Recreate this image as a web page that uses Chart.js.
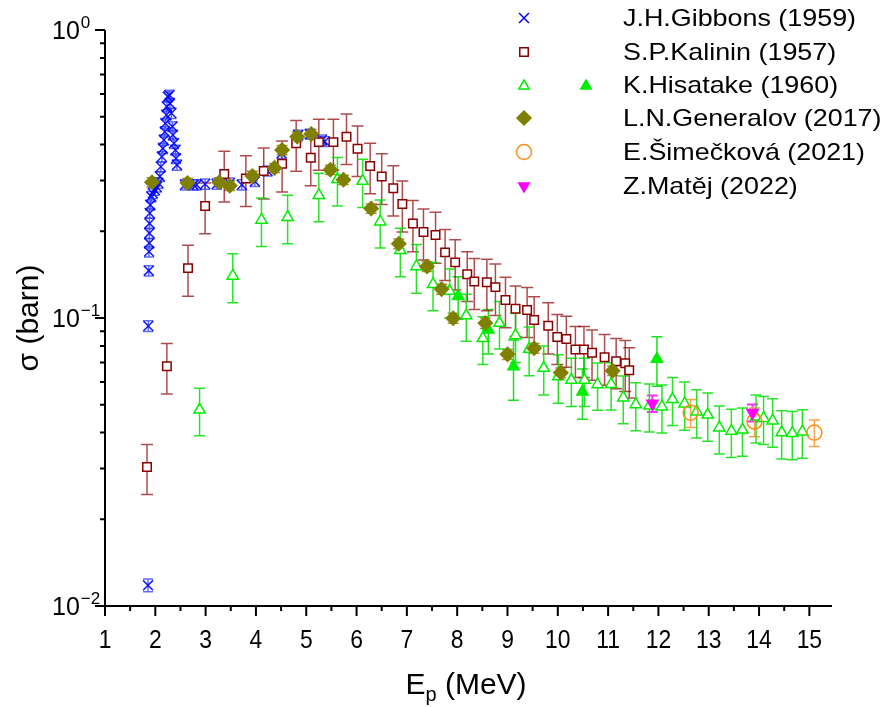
<!DOCTYPE html>
<html><head><meta charset="utf-8">
<script src="https://cdn.jsdelivr.net/npm/chart.js@4.4.0/dist/chart.umd.min.js"></script>
<style>html,body{margin:0;padding:0;background:#fff;}#wrap{width:891px;height:707px;}</style>
</head><body><div id="wrap"><canvas id="c" width="891" height="707"></canvas></div>
<script>
// ---------- data (E in MeV, sigma in barn, absolute errors) ----------
const gibbonsE = [1.855,1.86,1.87,1.875,1.88,1.882,1.885,1.89,1.90,1.92,1.95,1.99,2.03,2.06,2.09,2.11,2.13,2.15,2.17,2.19,2.20,2.22,2.23,2.25,2.28,2.29,2.32,2.34,2.35,2.37,2.40,2.41,2.43,2.59,2.76,2.82,2.99,3.22,3.48,3.72,3.98,4.23,4.51,4.84,5.07,5.31,5.37];
const gibbonsS = [0.0118,0.0938,0.146,0.170,0.182,0.197,0.213,0.231,0.247,0.264,0.271,0.278,0.285,0.294,0.310,0.335,0.363,0.388,0.415,0.443,0.474,0.507,0.542,0.586,0.594,0.556,0.514,0.462,0.432,0.404,0.383,0.358,0.340,0.290,0.290,0.290,0.292,0.292,0.294,0.290,0.298,0.324,0.373,0.432,0.435,0.415,0.410];
const gibbonsErr = [0.0006,0.004,0.006,0.007,0.007,0.008,0.009,0.009,0.010,0.011,0.011,0.011,0.011,0.012,0.012,0.013,0.015,0.016,0.017,0.018,0.019,0.020,0.022,0.023,0.024,0.022,0.021,0.018,0.017,0.016,0.015,0.014,0.014,0.012,0.012,0.012,0.012,0.012,0.012,0.012,0.012,0.013,0.015,0.017,0.017,0.017,0.016];

const kalininE = [1.835,2.23,2.65,2.99,3.37,3.80,4.155,4.52,4.80,5.09,5.25,5.54,5.80,6.02,6.27,6.50,6.73,6.91,7.12,7.33,7.57,7.76,7.96,8.20,8.34,8.59,8.76,8.96,9.16,9.39,9.53,9.81,9.99,10.17,10.35,10.52,10.68,10.93,11.16,11.34,11.42];
const kalininS = [0.0304,0.068,0.149,0.245,0.316,0.305,0.324,0.343,0.404,0.360,0.408,0.408,0.426,0.387,0.337,0.310,0.282,0.249,0.213,0.199,0.194,0.169,0.156,0.142,0.134,0.133,0.128,0.1155,0.1077,0.1066,0.0985,0.094,0.0859,0.0845,0.0778,0.0778,0.0758,0.073,0.0708,0.0696,0.0658];
const kalininErr = [0.006,0.0135,0.030,0.049,0.063,0.061,0.065,0.069,0.081,0.072,0.082,0.082,0.085,0.077,0.067,0.062,0.056,0.050,0.043,0.040,0.039,0.034,0.031,0.028,0.027,0.027,0.026,0.023,0.0215,0.021,0.020,0.019,0.017,0.017,0.0156,0.0156,0.015,0.0146,0.014,0.014,0.013];

const hisatakeE = [2.88,3.54,4.11,4.63,5.25,5.62,6.12,6.47,6.87,7.19,7.52,7.85,8.18,8.51,8.84,9.16,9.43,9.72,10.01,10.27,10.53,10.79,11.06,11.30,11.55,11.82,12.07,12.28,12.52,12.76,12.98,13.21,13.45,13.67,13.94,14.09,14.27,14.45,14.66,14.86];
const hisatakeS = [0.048,0.140,0.219,0.224,0.267,0.303,0.299,0.216,0.172,0.151,0.131,0.124,0.102,0.085,0.096,0.087,0.078,0.067,0.0626,0.0609,0.0609,0.0588,0.0589,0.0529,0.0501,0.0496,0.0492,0.0522,0.0504,0.0473,0.0461,0.0416,0.0405,0.0409,0.0454,0.0449,0.044,0.040,0.0398,0.0403];
const hisatakeErr = [0.009,0.027,0.042,0.043,0.051,0.058,0.057,0.041,0.033,0.029,0.025,0.024,0.019,0.016,0.018,0.017,0.015,0.013,0.012,0.0116,0.0116,0.011,0.011,0.010,0.0095,0.0094,0.0093,0.0099,0.0096,0.009,0.0088,0.0079,0.0077,0.0078,0.0086,0.0085,0.0084,0.0076,0.0076,0.0077];

const hisatake2E = [8.02,8.62,9.12,10.49,11.97];
const hisatake2S = [0.119,0.091,0.0678,0.0555,0.072];
const hisatake2Err = [0.020,0.016,0.016,0.011,0.014];

const generalovE = [1.934,2.64,3.27,3.48,3.93,4.37,4.52,4.82,5.10,5.48,5.74,6.29,6.84,7.40,7.69,7.92,8.56,9.00,9.53,10.06,11.09];
const generalovS = [0.296,0.294,0.296,0.288,0.311,0.332,0.383,0.426,0.435,0.327,0.302,0.240,0.181,0.151,0.126,0.0998,0.096,0.0748,0.0785,0.0646,0.0656];
const generalovErr = [0.011,0.011,0.011,0.011,0.012,0.012,0.014,0.016,0.016,0.012,0.011,0.009,0.007,0.006,0.005,0.004,0.004,0.003,0.003,0.0025,0.0025];

const simeckovaE = [12.64,13.91,15.10];
const simeckovaS = [0.0469,0.0437,0.040];
const simeckovaErr = [0.0052,0.0050,0.0042];

const matejE = [11.88,13.87];
const matejS = [0.0505,0.0469];
const matejErr = [0.0033,0.0032];

const seriesNames = ['J.H.Gibbons (1959)','S.P.Kalinin (1957)','K.Hisatake (1960)','L.N.Generalov (2017)','E.Šimečková (2021)','Z.Matěj (2022)'];
const xTickValues = [1,2,3,4,5,6,7,8,9,10,11,12,13,14,15];
const yTickValues = [1,0.1,0.01];
const yTickExps = ['0','-1','-2'];

// ---------- helpers ----------
const FONT = '"Liberation Sans", Arial, Helvetica, sans-serif';
function pts(E, S){ return E.map((e,i)=>({x:e, y:S[i]})); }

const errorBars = {
  id:'errorBars',
  beforeDatasetsDraw(chart){
    const ctx = chart.ctx, xs = chart.scales.x, ys = chart.scales.y;
    chart.data.datasets.forEach(ds=>{
      if(!ds.errors) return;
      ctx.save();
      ctx.strokeStyle = ds.errColor; ctx.lineWidth = ds.errWidth;
      ds.data.forEach((p,j)=>{
        const e = ds.errors[j];
        const px = xs.getPixelForValue(p.x);
        const yt = ys.getPixelForValue(p.y + e);
        const yb = ys.getPixelForValue(Math.max(p.y - e, 1e-4));
        const cw = ds.capW/2;
        ctx.beginPath();
        ctx.moveTo(px,yt); ctx.lineTo(px,yb);
        ctx.moveTo(px-cw,yt); ctx.lineTo(px+cw,yt);
        ctx.moveTo(px-cw,yb); ctx.lineTo(px+cw,yb);
        ctx.stroke();
      });
      ctx.restore();
    });
  }
};

function marker(ctx, style, x, y, r, stroke, fill, rot){
  ctx.save();
  ctx.strokeStyle = stroke; ctx.fillStyle = fill; ctx.lineWidth = 1.5;
  Chart.helpers.drawPoint(ctx, {pointStyle:style, radius:r, rotation:rot||0, borderWidth:1.5}, x, y);
  ctx.restore();
}

const decor = {
  id:'decor',
  afterDraw(chart){
    const ctx = chart.ctx, xs = chart.scales.x, ys = chart.scales.y, a = chart.chartArea;
    ctx.save();
    ctx.strokeStyle = '#000'; ctx.lineWidth = 2;
    ctx.beginPath();
    ctx.moveTo(a.left, a.top); ctx.lineTo(a.left, a.bottom); ctx.lineTo(a.right, a.bottom);
    ctx.stroke();
    // x ticks
    ctx.lineWidth = 2;
    ctx.beginPath();
    xTickValues.forEach(v=>{ const px = xs.getPixelForValue(v); ctx.moveTo(px,a.bottom); ctx.lineTo(px,a.bottom+10); });
    for(let v=1.5; v<xs.max; v+=1){ const px = xs.getPixelForValue(v); ctx.moveTo(px,a.bottom); ctx.lineTo(px,a.bottom+5); }
    // y ticks
    yTickValues.forEach(v=>{ const py = ys.getPixelForValue(v); ctx.moveTo(a.left,py); ctx.lineTo(a.left-10,py); });
    [0.01,0.1].forEach(d=>{ for(let k=2;k<=9;k++){ const py = ys.getPixelForValue(d*k); ctx.moveTo(a.left,py); ctx.lineTo(a.left-5,py); } });
    ctx.stroke();
    // x tick labels
    ctx.fillStyle = '#000';
    ctx.font = '26px ' + FONT;
    ctx.textAlign = 'center'; ctx.textBaseline = 'alphabetic';
    xTickValues.forEach(v=>{
      const px = xs.getPixelForValue(v);
      ctx.save(); ctx.translate(px, a.bottom+42); ctx.scale(0.88,1);
      ctx.fillText(String(v), 0, 0); ctx.restore();
    });
    // y tick labels
    yTickValues.forEach((v,i)=>{
      const py = ys.getPixelForValue(v);
      ctx.textAlign = 'left';
      ctx.font = '25px ' + FONT;
      ctx.fillText('10', 52, py+9);
      const w = ctx.measureText('10').width;
      ctx.font = '17px ' + FONT;
      ctx.fillText(yTickExps[i].replace('-','\u2212'), 52+w+1, py-2);
    });
    // y title
    ctx.save();
    ctx.translate(38, (a.top+a.bottom)/2); ctx.rotate(-Math.PI/2);
    ctx.font = '30px ' + FONT; ctx.textAlign = 'center';
    ctx.fillText('\u03c3 (barn)', 0, 0);
    ctx.restore();
    // x title
    ctx.font = '30px ' + FONT;
    const wE = ctx.measureText('E').width, wR = ctx.measureText(' (MeV)').width;
    ctx.font = '20px ' + FONT;
    const wp = ctx.measureText('p').width;
    const tot = wE + wp + wR;
    let sx = 466 - tot/2;
    const by = 694;
    ctx.textAlign = 'left';
    ctx.font = '30px ' + FONT; ctx.fillText('E', sx, by);
    ctx.font = '20px ' + FONT; ctx.fillText('p', sx+wE, by+7);
    ctx.font = '30px ' + FONT; ctx.fillText(' (MeV)', sx+wE+wp, by);
    // legend
    const rows = [18,52,85,118,152,186];
    const mx = 524, tx = 623;
    marker(ctx,'crossRot',mx,rows[0],7,'#0000FF','#0000FF');
    marker(ctx,'rect',mx,rows[1],6,'#8B0000','#FFFFFF');
    marker(ctx,'triangle',mx,rows[2]+1,6,'#00EE00','#FFFFFF');
    marker(ctx,'triangle',586,rows[2]+1,6,'#00EE00','#00EE00');
    marker(ctx,'rectRot',mx,rows[3],7,'#808000','#808000');
    marker(ctx,'circle',mx,rows[4],7.5,'#FF8C1A','#FFFFFF');
    marker(ctx,'triangle',mx,rows[5],6,'#FF00FF','#FF00FF',180);
    ctx.font = '24px ' + FONT; ctx.textAlign='left'; ctx.textBaseline='middle';
    seriesNames.forEach((n,i)=>{
      ctx.save(); ctx.translate(tx, rows[i]+1); ctx.scale(1.12,1);
      ctx.fillText(n, 0, 0); ctx.restore();
    });
    ctx.restore();
  }
};

const ds = (label, E, S, err, o) => Object.assign({
  label, data: pts(E,S), errors: err, showLine:false, pointBorderWidth:1.5,
  pointHoverRadius: o.pointRadius
}, o);

new Chart(document.getElementById('c'), {
  type:'scatter',
  data:{ datasets:[
    ds(seriesNames[3], generalovE, generalovS, generalovErr, {pointStyle:'rectRot', pointRadius:7, backgroundColor:'#808000', borderColor:'#808000', errColor:'rgba(128,128,0,0.8)', errWidth:1.5, capW:11}),
    ds(seriesNames[5], matejE, matejS, matejErr, {pointStyle:'triangle', rotation:180, pointRadius:6.5, backgroundColor:'#FF00FF', borderColor:'#FF00FF', errColor:'#FF30FF', errWidth:2, capW:11}),
    ds(seriesNames[4], simeckovaE, simeckovaS, simeckovaErr, {pointStyle:'circle', pointRadius:7.5, backgroundColor:'rgba(255,255,255,0)', borderColor:'#FF8C1A', errColor:'#FFA24A', errWidth:1.5, capW:11}),
    ds(seriesNames[2]+' b', hisatake2E, hisatake2S, hisatake2Err, {pointStyle:'triangle', pointRadius:6.5, backgroundColor:'#00EE00', borderColor:'#00EE00', errColor:'#1EE01E', errWidth:1.5, capW:11}),
    ds(seriesNames[1], kalininE, kalininS, kalininErr, {pointStyle:'rect', pointRadius:6, backgroundColor:'#FFFFFF', borderColor:'#8B0000', errColor:'rgba(139,0,0,0.7)', errWidth:1.5, capW:12}),
    ds(seriesNames[2], hisatakeE, hisatakeS, hisatakeErr, {pointStyle:'triangle', pointRadius:6.5, backgroundColor:'#FFFFFF', borderColor:'#00EE00', errColor:'rgba(0,225,0,0.85)', errWidth:1.5, capW:11}),
    ds(seriesNames[0], gibbonsE, gibbonsS, gibbonsErr, {pointStyle:'crossRot', pointRadius:7, backgroundColor:'#0000FF', borderColor:'rgba(0,0,255,0.9)', errColor:'rgba(40,60,255,0.75)', errWidth:1.5, capW:10})
  ]},
  options:{
    responsive:false, animation:false, devicePixelRatio:1,
    layout:{ padding:{ left:105, right:59, top:30, bottom:101 } },
    plugins:{ legend:{display:false}, tooltip:{enabled:false} },
    scales:{
      x:{ type:'linear', min:1, max:15.45, display:false },
      y:{ type:'logarithmic', min:0.01, max:1, display:false }
    }
  },
  plugins:[errorBars, decor]
});
</script></body></html>
